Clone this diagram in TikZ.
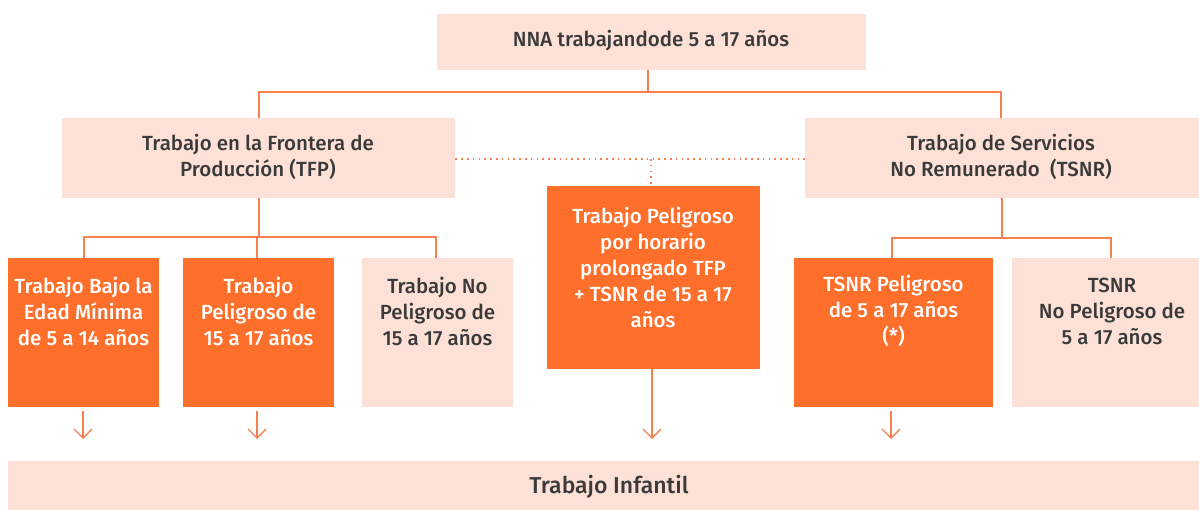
\documentclass[tikz,border=0pt]{standalone}
\usepackage{fontspec}
\setmainfont{Fira Sans}[UprightFont=* Medium]
\usetikzlibrary{arrows.meta}
\definecolor{orng}{HTML}{FF6F2C}
\definecolor{light}{HTML}{FDE1D6}
\definecolor{lnc}{HTML}{F8804F}
\definecolor{txt}{HTML}{3A3A3A}
\tikzset{
  box/.style={draw=none,inner sep=0pt,anchor=north west},
  lbox/.style={box,fill=light},
  obox/.style={box,fill=orng},
  dtext/.style={text=txt,align=center,font=\fontsize{20.5}{26}\selectfont,inner sep=0pt},
  wtext/.style={text=white,align=center,font=\fontsize{20.5}{26}\selectfont,inner sep=0pt},
  conn/.style={draw=lnc,line width=1.3pt},
  dots/.style={draw=lnc,line width=1.6pt,dash pattern=on 1.6pt off 4.2pt},
  arr/.style={conn,-{Straight Barb[length=9pt,width=18pt,line width=1.3pt]}},
}
\begin{document}
\begin{tikzpicture}[x=1pt,y=-1pt]
\useasboundingbox (0,0) rectangle (1199,510);
% boxes
\node[lbox,minimum width=429pt,minimum height=56pt] (top) at (437,14) {};
\node[lbox,minimum width=393pt,minimum height=80pt] (tfp) at (62,118) {};
\node[lbox,minimum width=394pt,minimum height=80pt] (tsnr) at (805,118) {};
\node[obox,minimum width=213pt,minimum height=183pt] (mid) at (547,186) {};
\node[obox,minimum width=151pt,minimum height=149pt] (b1) at (8,258) {};
\node[obox,minimum width=151pt,minimum height=149pt] (b2) at (183,258) {};
\node[lbox,minimum width=151pt,minimum height=149pt] (b3) at (362,258) {};
\node[obox,minimum width=199pt,minimum height=149pt] (b4) at (794,258) {};
\node[lbox,minimum width=187pt,minimum height=149pt] (b5) at (1012,258) {};
\node[lbox,minimum width=1191pt,minimum height=49pt] (bot) at (8,461) {};
% texts
\node[dtext] (topt) at (651,41) {NNA trabajandode 5 a 17 años};
\node[dtext] (tfpt) at (258,157) {Trabajo en la Frontera de\\Producción (TFP)};
\node[dtext] (tsnrt) at (1001,157) {Trabajo de Servicios\\No Remunerado\ \ (TSNR)};
\node[wtext] (midt) at (653,267) {Trabajo Peligroso\\por horario\\prolongado TFP\\+ TSNR de 15 a 17\\años};
\node[wtext] (b1t) at (83.5,311) {Trabajo Bajo la\\Edad Mínima\\de 5 a 14 años};
\node[wtext] (b2t) at (258.5,311) {Trabajo\\Peligroso de\\15 a 17 años};
\node[dtext] (b3t) at (437.5,311) {Trabajo No\\Peligroso de\\15 a 17 años};
\node[wtext] (b4t) at (893.5,311) {TSNR Peligroso\\de 5 a 17 años\\(*)};
\node[dtext] (b5t) at (1112,311) {TSNR\\No Peligroso de\\5 a 17 años};
\node[dtext,font=\fontsize{23}{26}\selectfont] (bott) at (609,487) {Trabajo Infantil};
% connector coordinates
\coordinate (j0) at (648,92);
\coordinate (j0l) at (259,92);
\coordinate (j0r) at (1001,92);
\coordinate (jl) at (259,237);
\coordinate (jla) at (84,237);
\coordinate (jlb) at (257,237);
\coordinate (jlc) at (436,237);
\coordinate (jr) at (1002,238);
\coordinate (jra) at (892,238);
\coordinate (jrb) at (1111,238);
\coordinate (dl) at (455,159);
\coordinate (dr) at (804,159);
\coordinate (dm) at (651,159);
\coordinate (dmb) at (651,185);
\coordinate (a1s) at (83,411);
\coordinate (a1e) at (83,439);
\coordinate (a2s) at (257,411);
\coordinate (a2e) at (257,439);
\coordinate (a4s) at (891,411);
\coordinate (a4e) at (891,439);
\coordinate (ame) at (652,439);
% connectors
\draw[conn] (top.south -| j0) -- (j0);
\draw[conn] (tfp.north -| j0l) -- (j0l) -- (j0r) -- (tsnr.north -| j0r);
\draw[conn] (tfp.south -| jl) -- (jl);
\draw[conn] (b1.north -| jla) -- (jla) -- (jlc) -- (b3.north -| jlc);
\draw[conn] (jlb) -- (b2.north -| jlb);
\draw[conn] (tsnr.south -| jr) -- (jr);
\draw[conn] (b4.north -| jra) -- (jra) -- (jrb) -- (b5.north -| jrb);
\draw[dots] (tfp.east |- dl) -- (tsnr.west |- dr);
\draw[dots] (dm) -- (mid.north -| dmb);
\draw[arr] (a1s) -- (a1e);
\draw[arr] (a2s) -- (a2e);
\draw[arr] (a4s) -- (a4e);
\draw[arr] (mid.south -| ame) -- (ame);
\end{tikzpicture}
\end{document}
